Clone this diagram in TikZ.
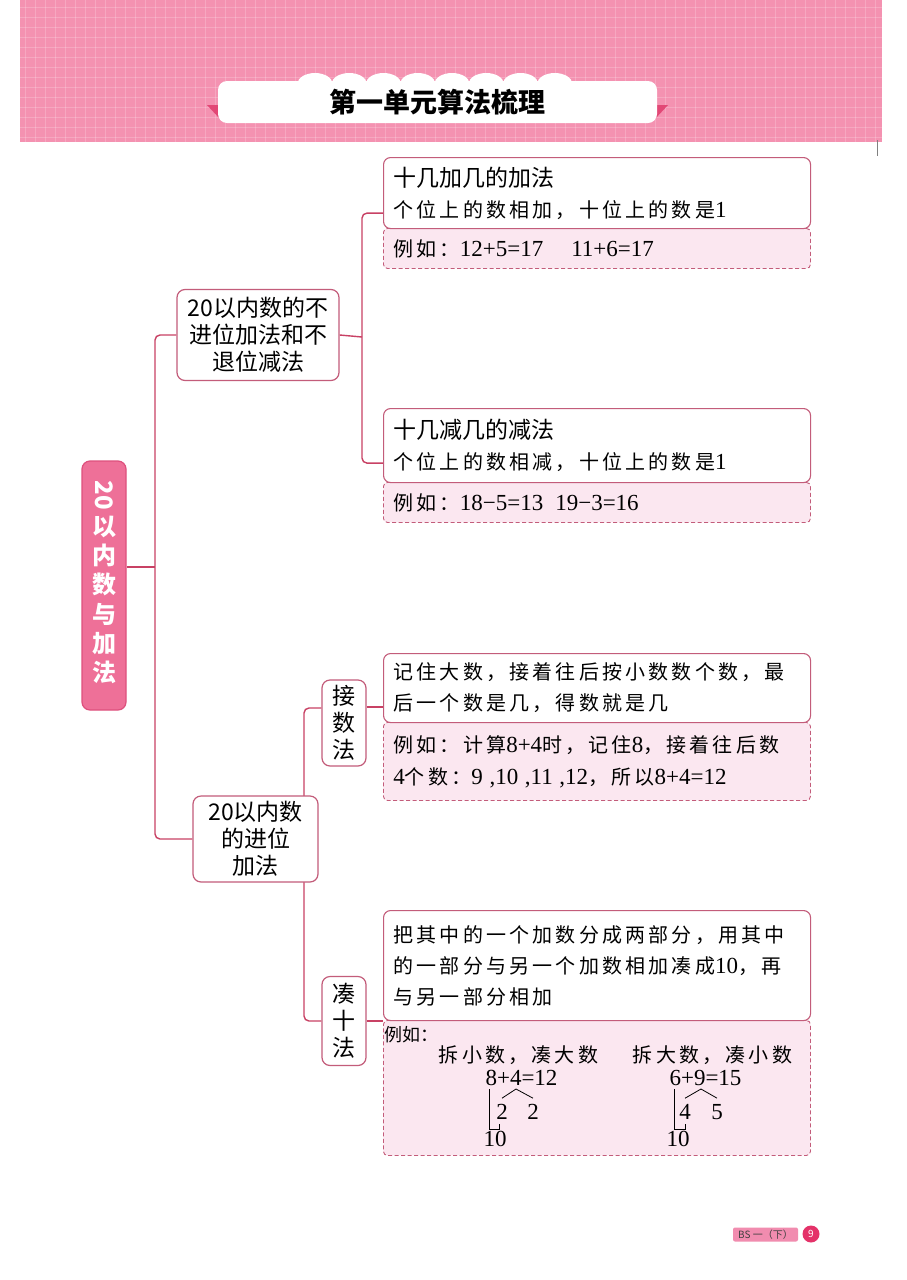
\documentclass[tikz,border=0pt]{standalone}
\usepackage{fontspec}
\setmainfont{Liberation Serif}
\newfontfamily\hei{Noto Sans CJK SC}
\newfontfamily\song{Noto Sans CJK SC}[LetterSpace=16]
\newfontfamily\shu{Liberation Serif}[Scale=1.15]
\usetikzlibrary{backgrounds}

\definecolor{bandpink}{RGB}{244,146,177}
\definecolor{linkred}{RGB}{200,65,100}
\definecolor{boxline}{RGB}{195,92,122}
\definecolor{tintpink}{RGB}{251,231,240}
\definecolor{rootpink}{RGB}{238,112,152}
\definecolor{rootedge}{RGB}{222,80,125}
\definecolor{tabpink}{RGB}{226,72,118}
\definecolor{pillpink}{RGB}{241,140,175}
\definecolor{dotred}{RGB}{228,50,105}

\newcommand\boxhead[1]{{\hei\fontsize{23}{31}\selectfont #1}}

\begin{document}
\begin{tikzpicture}[x=1pt, y=-1pt,
  link/.style={draw=linkred, line width=1.4pt, rounded corners=5pt},
  topic/.style={draw=boxline, line width=1.2pt, fill=white, rounded corners=8pt,
    align=center, inner sep=0pt, font=\hei\fontsize{23}{27}\selectfont},
  roottext/.style={text=white, inner sep=0pt, font=\hei\bfseries\fontsize{24}{29.3}\selectfont},
  notebox/.style={draw=boxline, line width=1.1pt, fill=white, rounded corners=7pt,
    anchor=north west, text width=407pt, inner xsep=10pt, inner ysep=0pt,
    align=left, font=\song\fontsize{20}{31}\selectfont},
  examplebox/.style={draw=boxline, dash pattern=on 4pt off 2.5pt, line width=.9pt,
    fill=tintpink, rounded corners=4pt, anchor=north west, text width=407pt,
    inner xsep=10pt, inner ysep=0pt, align=left, font=\song\fontsize{20}{32}\selectfont},
  plain/.style={inner sep=0pt, font=\song\fontsize{20}{24}\selectfont},
  digit/.style={inner sep=0pt, font=\shu\fontsize{20}{24}\selectfont},
  split/.style={draw=black, line width=.8pt},
  gridline/.style={draw=white, line width=.5pt, opacity=.2},
]
  \useasboundingbox (0,0) rectangle (906,1280);

  % Header band with grid
  \fill[bandpink] (20,0) rectangle (882,142);
  \foreach \gx in {25,35,...,875} \draw[gridline] (\gx,0) -- (\gx,142);
  \foreach \gy in {7,17,...,137} \draw[gridline] (20,\gy) -- (882,\gy);
  \draw[gray, line width=.5pt] (877,140) -- (877,156);

  % Title plate
  \fill[tabpink] (207,105) -- (220,105) -- (220,119) -- cycle;
  \fill[tabpink] (668,105) -- (655,105) -- (655,119) -- cycle;
  \foreach \k in {0,...,7} \fill[white] ({315+\k*34.25},84) ellipse (17.6pt and 11pt);
  \node[fill=white, rounded corners=9pt, minimum width=439pt, minimum height=42pt,
    font=\hei\bfseries\fontsize{27}{27}\selectfont] (title) at (437.5,102) {第一单元算法梳理};

  % Root and topics
  \node[draw=rootedge, fill=rootpink, line width=1.2pt, rounded corners=8pt,
    minimum width=44pt, minimum height=249pt] (root) at (104,585.5) {};
  \node[roottext, rotate=-90] (rootnum) at (104,495) {20};
  \node[roottext, align=center] (rootword) at (104,600) {以\\内\\数\\与\\加\\法};
  \node[topic, minimum width=162pt, minimum height=91pt] (nocarry) at (258,335) {20以内数的不\\进位加法和不\\退位减法};
  \node[topic, minimum width=125pt, minimum height=86pt] (carry) at (255.5,839) {20以内数\\的进位\\加法};
  \node[topic, minimum width=44pt, minimum height=86pt] (countnode) at (344,723) {接\\数\\法};
  \node[topic, minimum width=44pt, minimum height=89pt] (tennode) at (344,1021) {凑\\十\\法};

  % Note boxes: dashed example part first, white part over it
  \node[examplebox, minimum height=40pt] (addeg) at (383,228) {例如：{\shu 12+5=17}\hspace{28pt}{\shu 11+6=17}};
  \node[notebox, minimum height=71pt] (addbox) at (383,157) {\boxhead{十几加几的加法}\\个位上的数相加，十位上的数是{\shu 1}};
  \node[examplebox, minimum height=40pt] (subeg) at (383,482) {例如：{\shu 18−5=13}\hspace{12pt}{\shu 19−3=16}};
  \node[notebox, minimum height=74pt] (subbox) at (383,408) {\boxhead{十几减几的减法}\\个位上的数相减，十位上的数是{\shu 1}};
  \node[examplebox, minimum height=78pt] (counteg) at (383,722) {例如：计算{\shu 8+4}时，记住{\shu 8}，接着往后数\\{\shu 4}个数：{\shu 9 ,10 ,11 ,12}，所以{\shu 8+4=12}};
  \node[notebox, minimum height=69pt] (countbox) at (383,653) {记住大数，接着往后按小数数个数，最\\后一个数是几，得数就是几};
  \node[examplebox, minimum height=135pt] (teneg) at (383,1020) {};
  \node[notebox, minimum height=110pt] (tenbox) at (383,910) {把其中的一个加数分成两部分，用其中\\的一部分与另一个加数相加凑成{\shu 10}，再\\与另一部分相加};

  % Make-ten examples
  \node[inner sep=0pt, anchor=north west, font=\hei\fontsize{18}{18}\selectfont] (egword) at (384,1026) {例如：};
  \node[plain] (splitsmall) at (518.5,1055) {拆小数，凑大数};
  \node[plain] (splitbig) at (712.5,1055) {拆大数，凑小数};
  \node[digit] (eqA) at (521.5,1078) {8+4=12};
  \node[digit] (eqB) at (705.5,1078) {6+9=15};
  \node[digit] (partA1) at (502,1112) {2};
  \node[digit] (partA2) at (533,1112) {2};
  \node[digit] (partB1) at (685,1112) {4};
  \node[digit] (partB2) at (717,1112) {5};
  \node[digit] (tenA) at (495,1139) {10};
  \node[digit] (tenB) at (678,1139) {10};
  \coordinate (apexA) at (516,1089);
  \coordinate (barA) at (489,1089);
  \coordinate (hookA) at (499,1129);
  \coordinate (apexB) at (701,1089);
  \coordinate (barB) at (674,1089);
  \coordinate (hookB) at (685,1129);
  \draw[split] ([yshift=6pt]partA1.north) -- (apexA) -- ([yshift=6pt]partA2.north);
  \draw[split] (barA) |- (hookA) -- ++(0,-5);
  \draw[split] ([yshift=6pt]partB1.north) -- (apexB) -- ([yshift=6pt]partB2.north);
  \draw[split] (barB) |- (hookB) -- ++(0,-5);

  % Footer
  \node[fill=pillpink, rounded corners=2pt, minimum width=65pt, minimum height=14pt, inner sep=0pt,
    text=black!75, font=\hei\fontsize{10}{10}\selectfont] (unit) at (765.5,1234.5) {BS 一（下）};
  \node[circle, fill=dotred, minimum size=17pt, inner sep=0pt, text=white,
    font=\hei\fontsize{10}{10}\selectfont] (pageno) at (811,1234) {9};

  % Connectors behind the boxes
  \begin{scope}[on background layer]
    \fill[white] (0,0) rectangle (906,1280);
    \coordinate (trunk) at (155,567);
    \coordinate (fork1) at (362,337);
    \coordinate (fork2) at (304,839);
    \coordinate (countout) at ([yshift=16pt]countnode.east);
    \draw[link] (root.east |- trunk) -- (trunk);
    \draw[link] (nocarry.west) -| (trunk) |- (carry.west);
    \draw[link] (nocarry.east) -- (fork1);
    \draw[link] ([yshift=16pt]addbox.south west) -| (fork1) |- ([yshift=20pt]subbox.south west);
    \draw[link] ([yshift=15pt]countnode.west) -| (fork2) |- (tennode.west);
    \draw[link] (countout) -- (countout -| countbox.west);
    \draw[link] (tennode.east) -- (tennode.east -| tenbox.west);
  \end{scope}
\end{tikzpicture}
\end{document}
